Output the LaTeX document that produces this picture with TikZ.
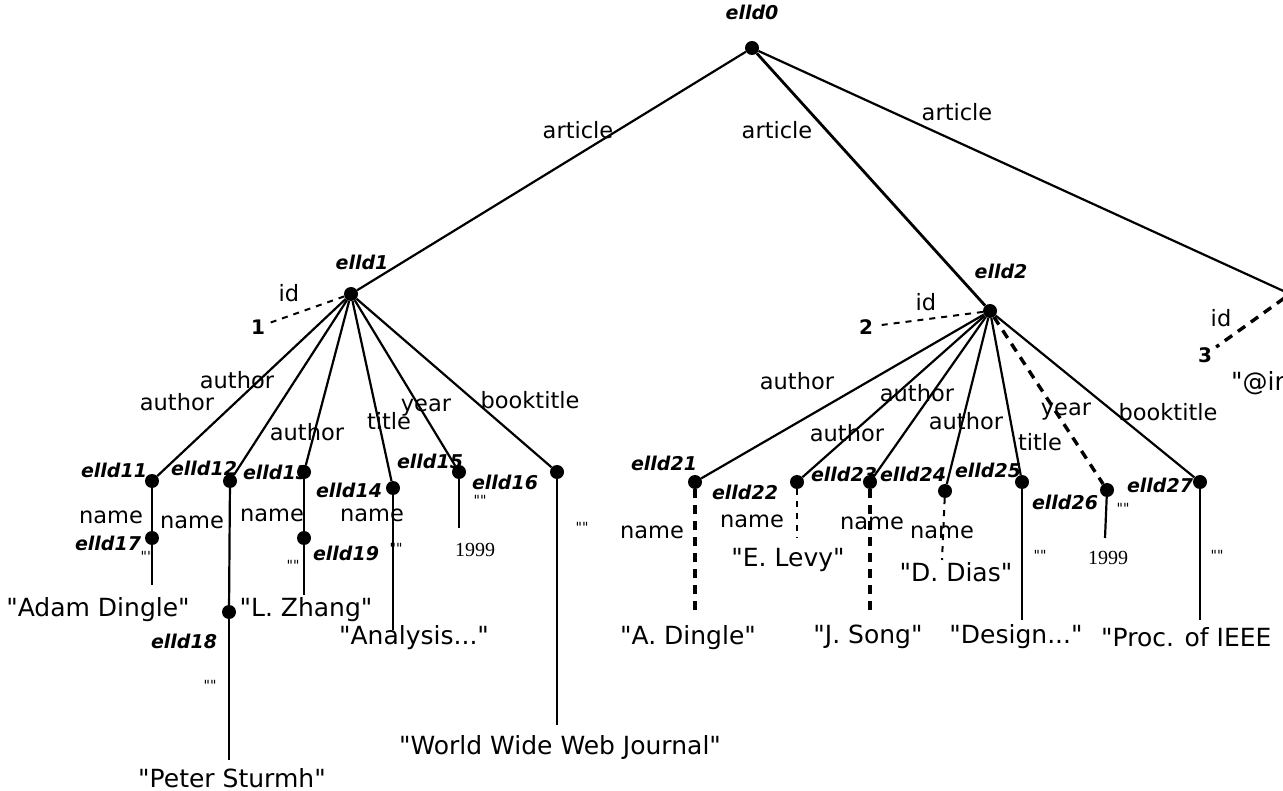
\documentclass[tikz,border=0pt]{standalone}
\usepackage{fontspec}
\setmainfont{DejaVu Sans}[Ligatures=TeXOff]
\newfontfamily\yearfont{Liberation Serif}[Ligatures=TeXOff]
\begin{document}
\begin{tikzpicture}[x=1pt,y=-1pt]
			\useasboundingbox (0,0) rectangle (1283,791);
			\clip (0,0) rectangle (1283,791);
			\tikzstyle{dot}=[circle, fill=black, inner sep=0pt, minimum size=14pt]
			\tikzstyle{eid}=[font=\fontsize{19}{20}\selectfont\bfseries\itshape, inner sep=1pt]
			\tikzstyle{elab}=[font=\fontsize{22.5}{24}\selectfont, inner sep=1pt]
			\tikzstyle{val}=[font=\fontsize{25}{27}\selectfont, inner sep=1pt]
			\tikzstyle{qq}=[font=\fontsize{14}{15}\selectfont, inner sep=1pt]
			\tikzstyle{yr}=[font=\yearfont\fontsize{20}{21}\selectfont, inner sep=1pt]
			\tikzstyle{idn}=[font=\fontsize{20}{22}\selectfont\bfseries, inner sep=4pt]
			\tikzstyle{edge}=[line width=2.2pt]
			\tikzstyle{tdash}=[line width=3.4pt, dash pattern=on 9pt off 7pt]
			\tikzstyle{ldash}=[line width=2pt, dash pattern=on 6pt off 6pt]
			% root and articles
			\node[dot] (e0) at (752,48) {};
			\node[eid] (l0) at (752,12) {elld0};
			\node[dot] (e1) at (351,294) {};
			\node[eid] (l1) at (362,262) {elld1};
			\node[dot] (e2) at (990,311) {};
			\node[eid] (l2) at (1001,271) {elld2};
			\node[dot] (e3) at (1290,294) {};
			\node[eid] (l3) at (1312,268) {elld3};
			\draw[edge] (e0) -- (e1);
			\draw[edge, line width=2.8pt] (e0) -- (e2);
			\draw[edge] (e0) -- (e3);
			\node[elab] (a1) at (578,130) {article};
			\node[elab] (a2) at (777,130) {article};
			\node[elab] (a3) at (957,112) {article};
			% ids
			\node[idn] (n1) at (258,327) {1};
			\node[elab] (d1) at (289,293) {id};
			\draw[ldash] (e1) -- (n1);
			\node[idn] (n2) at (866,327) {2};
			\node[elab] (d2) at (926,302) {id};
			\draw[ldash] (e2) -- (n2);
			\node[idn] (n3) at (1205,355) {3};
			\node[elab] (d3) at (1221,318) {id};
			\draw[tdash] (e3) -- (n3);
			\node[val, anchor=west] (t3) at (1230,383) {"@in};
			% first article
			\node[dot] (e11) at (152,481) {};
			\node[eid] (l11) at (114,470) {elld11};
			\node[dot] (e12) at (230,481) {};
			\node[eid] (l12) at (204,468) {elld12};
			\node[dot] (e13) at (304,472) {};
			\node[eid] (l13) at (276,472) {elld13};
			\node[dot] (e14) at (393,488) {};
			\node[eid] (l14) at (349,490) {elld14};
			\node[dot] (e15) at (459,472) {};
			\node[eid] (l15) at (430,461) {elld15};
			\node[dot] (e16) at (557,472) {};
			\node[eid] (l16) at (505,482) {elld16};
			\foreach \c in {11,...,16}
				\draw[edge] (e1) -- (e\c);
			\node[elab] (m11) at (177,402) {author};
			\node[elab] (m12) at (237,380) {author};
			\node[elab] (m13) at (307,432) {author};
			\node[elab] (m14) at (389,421) {title};
			\node[elab] (m15) at (426,408) {year};
			\node[elab] (m16) at (530,400) {booktitle};
			\node[dot] (e17) at (152,538) {};
			\node[eid] (l17) at (108,543) {elld17};
			\node[dot] (e18) at (229,612) {};
			\node[eid] (l18) at (184,641) {elld18};
			\node[dot] (e19) at (304,538) {};
			\node[eid] (l19) at (346,553) {elld19};
			\draw[edge] (e11) -- (e17);
			\draw[edge] (e12) -- (e18);
			\draw[edge] (e13) -- (e19);
			\node[elab] (p11) at (111,517) {name};
			\node[elab] (p12) at (192,522) {name};
			\node[elab] (p13) at (272,515) {name};
			\node[elab] (p14) at (372,515) {name};
			\coordinate (b17) at (152,585);
			\coordinate (b18) at (229,760);
			\coordinate (b19) at (304,595);
			\coordinate (b14) at (393,630);
			\coordinate (b15) at (459,528);
			\coordinate (b16) at (557,725);
			\draw[edge] (e17) -- (b17);
			\draw[edge] (e18) -- (b18);
			\draw[edge] (e19) -- (b19);
			\draw[edge] (e14) -- (b14);
			\draw[edge] (e15) -- (b15);
			\draw[edge] (e16) -- (b16);
			\node[qq] (q17) at (147,556) {""};
			\node[qq] (q18) at (210,685) {""};
			\node[qq] (q19) at (293,565) {""};
			\node[qq] (q14) at (396,548) {""};
			\node[qq] (q15) at (480,500) {""};
			\node[qq] (q16) at (582,527) {""};
			\node[val] (t17) at (98,610) {"Adam Dingle"};
			\node[val] (t18) at (232,778) {"Peter Sturmh"};
			\node[val] (t19) at (306,610) {"L. Zhang"};
			\node[val] (t14) at (414,638) {"Analysis..."};
			\node[yr] (t15) at (475,550) {1999};
			\node[val] (t16) at (560,748) {"World Wide Web Journal"};
			% second article
			\node[dot] (e21) at (695,482) {};
			\node[eid] (l21) at (664,463) {elld21};
			\node[dot] (e22) at (797,482) {};
			\node[eid] (l22) at (745,492) {elld22};
			\node[dot] (e23) at (870,482) {};
			\node[eid] (l23) at (844,474) {elld23};
			\node[dot] (e24) at (945,491) {};
			\node[eid] (l24) at (913,474) {elld24};
			\node[dot] (e25) at (1022,482) {};
			\node[eid] (l25) at (988,470) {elld25};
			\node[dot] (e26) at (1107,490) {};
			\node[eid] (l26) at (1065,502) {elld26};
			\node[dot] (e27) at (1200,482) {};
			\node[eid] (l27) at (1160,485) {elld27};
			\foreach \c in {21,...,25,27}
				\draw[edge] (e2) -- (e\c);
			\draw[tdash] (e2) -- (e26);
			\node[elab] (m21) at (797,381) {author};
			\node[elab] (m22) at (917,393) {author};
			\node[elab] (m23) at (847,433) {author};
			\node[elab] (m24) at (966,421) {author};
			\node[elab] (m25) at (1040,442) {title};
			\node[elab] (m26) at (1066,412) {year};
			\node[elab] (m27) at (1168,412) {booktitle};
			\coordinate (b21) at (695,615);
			\coordinate (b22) at (797,538);
			\coordinate (b23) at (870,615);
			\coordinate (b24) at (942,560);
			\coordinate (b25) at (1022,620);
			\coordinate (b26) at (1105,538);
			\coordinate (b27) at (1200,620);
			\draw[tdash] (e21) -- (b21);
			\draw[ldash] (e22) -- (b22);
			\draw[tdash] (e23) -- (b23);
			\draw[ldash] (e24) -- (b24);
			\draw[edge] (e25) -- (b25);
			\draw[edge] (e26) -- (b26);
			\draw[edge] (e27) -- (b27);
			\node[elab] (p21) at (652,532) {name};
			\node[elab] (p22) at (752,521) {name};
			\node[elab] (p23) at (872,523) {name};
			\node[elab] (p24) at (942,532) {name};
			\node[qq] (q25) at (1040,555) {""};
			\node[qq] (q26) at (1123,508) {""};
			\node[qq] (q27) at (1217,555) {""};
			\node[val] (t21) at (688,638) {"A. Dingle"};
			\node[val] (t22) at (788,560) {"E. Levy"};
			\node[val] (t23) at (868,637) {"J. Song"};
			\node[val] (t24) at (956,572) {"D. Dias"};
			\node[val] (t25) at (1016,637) {"Design..."};
			\node[yr] (t26) at (1108,558) {1999};
			\node[val, anchor=west] (t27) at (1100,637) {"Proc. of IEEE};
		\end{tikzpicture}
\end{document}
